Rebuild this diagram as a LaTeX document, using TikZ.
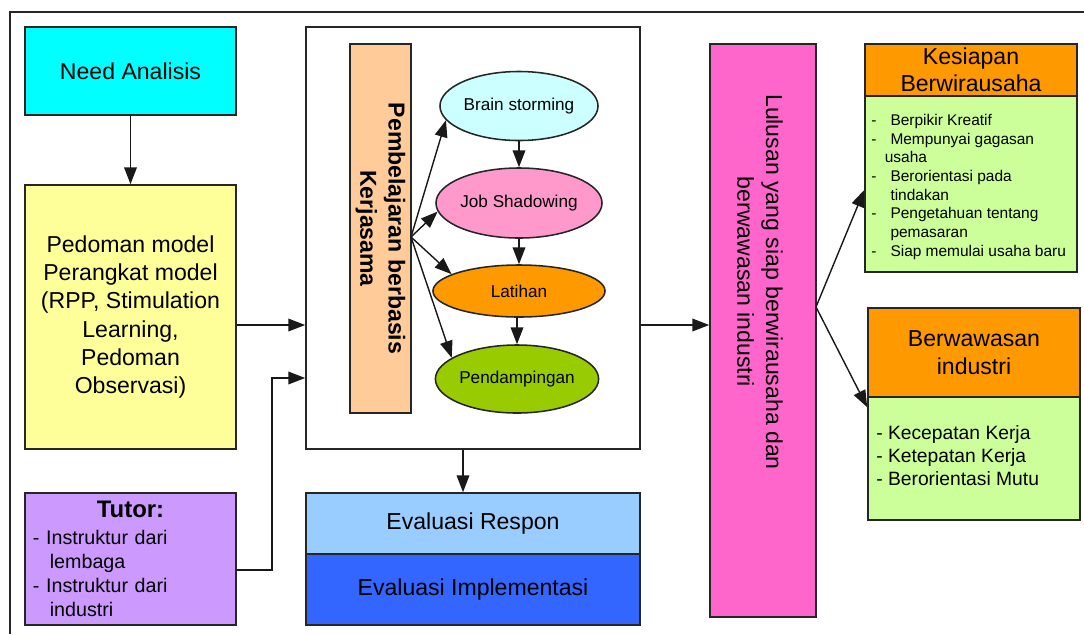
\documentclass[tikz,border=0pt]{standalone}
\usepackage{fontspec}
\setmainfont{Liberation Sans}
\usetikzlibrary{arrows.meta}
\usetikzlibrary{shapes.geometric}
\usepackage{xcolor}
\definecolor{needcyan}{HTML}{00FFFF}
\definecolor{pedyellow}{HTML}{FFFF99}
\definecolor{tutpurple}{HTML}{CC99FF}
\definecolor{pembpeach}{HTML}{FFCC99}
\definecolor{bscyan}{HTML}{CCFFFF}
\definecolor{jspink}{HTML}{FF99CC}
\definecolor{laorange}{HTML}{FF9900}
\definecolor{pdgreen}{HTML}{99CC00}
\definecolor{evlight}{HTML}{99CCFF}
\definecolor{evblue}{HTML}{3366FF}
\definecolor{lulmagenta}{HTML}{FF66CC}
\definecolor{bodygreen}{HTML}{CCFF99}
\tikzset{
  box/.style={draw=black!85, line width=1.1pt, rectangle, align=center, inner sep=2pt},
  bigtxt/.style={font=\fontsize{16.4}{20}\selectfont},
  oval/.style={draw=black!85, line width=1.1pt, ellipse, inner sep=0pt, font=\fontsize{12.2}{14}\selectfont},
  arr/.style={-{Triangle[length=12pt,width=9pt]}, line width=1pt, black!90},
}
\begin{document}
\begin{tikzpicture}[x=0.025cm, y=-0.025cm]
\useasboundingbox (0,0) rectangle (1084,634);
% frame
\draw[line width=1.4pt, black!85] (10,634) -- (10,12) -- (1084,12);

% left column
\node[box, bigtxt, fill=needcyan, minimum width=5.275cm, minimum height=2.2cm] (need) at (130.5,71) {Need Analisis};
\node[box, bigtxt, fill=pedyellow, minimum width=5.275cm, minimum height=6.6cm] (ped) at (130.5,317)
  {Pedoman model\\Perangkat model\\(RPP, Stimulation\\Learning,\\Pedoman\\Observasi)};
\node[box, fill=tutpurple, minimum width=5.275cm, minimum height=3.3cm, text width=4.875cm, inner xsep=0.2cm, align=left,
  font=\fontsize{14}{17}\selectfont] (tut) at (130.5,559)
  {{\centering\fontsize{17}{20}\selectfont\bfseries Tutor:\par}\vspace{2pt}
   - Instruktur dari\\\hspace*{12pt}lembaga\\- Instruktur dari\\\hspace*{12pt}industri};

% middle block
\node[box, fill=white, minimum width=8.35cm, minimum height=10.55cm] (main) at (473,238) {};
\node[box, fill=pembpeach, rotate=-90, minimum width=9.225cm, minimum height=1.525cm,
  font=\fontsize{16.4}{20}\selectfont\bfseries] (pemb) at (380.5,228.5) {Pembelajaran berbasis\\Kerjasama};
\node[oval, fill=bscyan, minimum width=3.95cm, minimum height=1.725cm] (bs) at (519,106) {Brain storming};
\node[oval, fill=jspink, minimum width=4.15cm, minimum height=1.75cm] (js) at (519,203) {Job Shadowing};
\node[oval, fill=laorange, minimum width=4.3cm, minimum height=1.3cm] (la) at (519,291) {Latihan};
\node[oval, fill=pdgreen, minimum width=3.95cm, minimum height=1.7cm] (pd) at (517,379) {Pendampingan};
\node[box, bigtxt, fill=evlight, minimum width=8.35cm, minimum height=1.525cm] (evres) at (473,523.5) {Evaluasi Respon};
\node[box, bigtxt, fill=evblue, minimum width=8.35cm, minimum height=1.775cm] (evimp) at (473,589.5) {Evaluasi Implementasi};

% right part
\node[box, fill=lulmagenta, minimum width=2.65cm, minimum height=14.325cm] (lul) at (763,330.5) {};
\node[rotate=-90, align=center, font=\fontsize{16.4}{20.5}\selectfont] (lultxt) at (760,282)
  {Lulusan yang siap berwirausaha dan\\berwawasan industri};
\node[box, font=\fontsize{16.4}{19.5}\selectfont, fill=laorange, minimum width=5.3cm, minimum height=1.3cm] (kesh) at (971,70) {Kesiapan\\Berwirausaha};
\node[box, fill=bodygreen, minimum width=5.3cm, minimum height=4.4cm] (kesb) at (971,184) {};
\node[anchor=north west, inner sep=0pt, font=\fontsize{11}{13.3}\selectfont] (kestxt) at (871,112)
  {\begin{tabular}{@{}l@{\hspace{10pt}}l@{}}
   -&Berpikir Kreatif\\
   -&Mempunyai gagasan\\
    &\hspace{-4pt}usaha\\
   -&Berorientasi pada\\
    &tindakan\\
   -&Pengetahuan tentang\\
    &pemasaran\\
   -&Siap memulai usaha baru
   \end{tabular}};
\node[box, bigtxt, fill=laorange, minimum width=5.3cm, minimum height=2.225cm] (berh) at (974,352.5) {Berwawasan\\industri};
\node[box, fill=bodygreen, minimum width=5.3cm, minimum height=3.075cm] (berb) at (974,458.5) {};
\node[anchor=west, align=left, inner sep=0pt, font=\fontsize{13.7}{16.4}\selectfont] (bertxt) at (876,456)
  {- Kecepatan Kerja\\- Ketepatan Kerja\\- Berorientasi Mutu};

% connectors
\coordinate (row) at (0,325);
\coordinate (tutrow) at (0,570);
\coordinate (tutin) at (0,378);
\coordinate (pbhub) at (411,237);
\coordinate (lulhub) at (816,307);
\draw[arr] (need.south) -- (ped.north);
\draw[arr] (ped.east |- row) -- (main.west |- row);
\draw[arr] (tut.east |- tutrow) -- ++(35,0) |- (main.west |- tutin);
\draw[arr] (pbhub) -- (bs.191);
\draw[arr] (pbhub) -- (js.186);
\draw[arr] (pbhub) -- (la.166);
\draw[arr] (pbhub) -- (pd.162);
\draw[arr] (bs.south) -- (js.north);
\draw[arr] (js.south) -- (la.north);
\draw[arr] (la.south -| pd.north) -- (pd.north);
\draw[arr] ([xshift=-0.25cm]main.south) -- ([xshift=-0.25cm]evres.north);
\draw[arr] (main.east |- row) -- (lul.west |- row);
\draw[arr] (lulhub) -- ([yshift=-0.15cm]kesb.west);
\draw[arr] (lulhub) -- ([yshift=-0.275cm]berb.north west);
\end{tikzpicture}
\end{document}
